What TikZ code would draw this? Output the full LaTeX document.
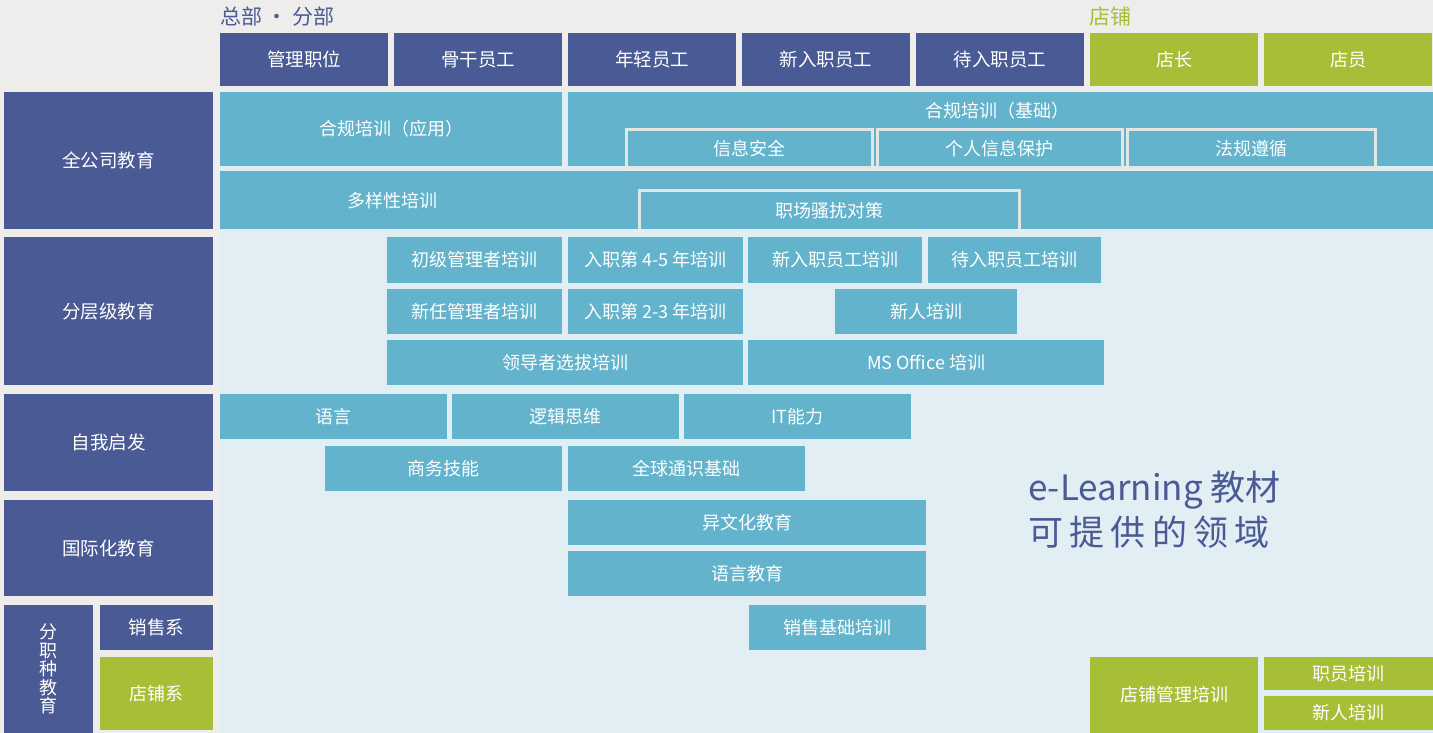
\documentclass[tikz,border=0pt]{standalone}
\usepackage{fontspec}
\setmainfont{Noto Sans CJK SC}
\definecolor{dblue}{HTML}{4A5A94}
\definecolor{teal1}{HTML}{62B3CB}
\definecolor{green1}{HTML}{A6BF37}
\definecolor{lbg}{HTML}{E1EEF4}
\definecolor{gbg}{HTML}{EEEDEB}
\definecolor{edge}{HTML}{E4E6E6}
\tikzset{
  base/.style={inner sep=0pt, outer sep=0pt, text=white, font=\fontsize{18}{21}\selectfont, align=center},
  hdr/.style={base, fill=dblue, font=\fontsize{18.5}{21}\selectfont},
  cat/.style={base, fill=dblue, font=\fontsize{18.5}{21}\selectfont},
  crs/.style={base, fill=teal1},
  grn/.style={base, fill=green1},
  sub/.style={base, fill=teal1, draw=edge, line width=3pt},
}
\newcommand\bx[7]{\node[#2, anchor=north west, minimum width={#5-#3}, minimum height={#6-#4}] (#1) at (#3,#4) {#7};}
\begin{document}
\begin{tikzpicture}[x=1pt,y=-1pt]
\fill[gbg] (0,0) rectangle (1433,733);
\useasboundingbox (0,0) rectangle (1433,733);
\fill[lbg] (220,92) rectangle (1433,733);
% titles
\node[anchor=west, text=dblue, font=\fontsize{21}{24}\selectfont, inner sep=0pt] (t1) at (220,17) {总部 · 分部};
\node[anchor=west, text=green1, font=\fontsize{21}{24}\selectfont, inner sep=0pt] (t2) at (1089,17) {店铺};
% header
\bx{h1}{hdr}{220}{33}{388}{86}{管理职位}
\bx{h2}{hdr}{394}{33}{562}{86}{骨干员工}
\bx{h3}{hdr}{568}{33}{736}{86}{年轻员工}
\bx{h4}{hdr}{742}{33}{910}{86}{新入职员工}
\bx{h5}{hdr}{916}{33}{1084}{86}{待入职员工}
\bx{h6}{grn}{1090}{33}{1258}{86}{店长}
\bx{h7}{grn}{1264}{33}{1432}{86}{店员}
% categories
\bx{c1}{cat}{4}{92}{213}{229}{全公司教育}
\bx{c2}{cat}{4}{237}{213}{385}{分层级教育}
\bx{c3}{cat}{4}{394}{213}{491}{自我启发}
\bx{c4}{cat}{4}{500}{213}{596}{国际化教育}
\node[cat, anchor=north west, minimum width=89, minimum height=128, font=\fontsize{18}{18.5}\selectfont] (c5) at (4,605) {分\\职\\种\\教\\育};
\bx{c6}{cat}{100}{605}{213}{650}{销售系}
\bx{c7}{grn}{100}{657}{213}{730}{店铺系}
% company-wide
\bx{a1}{crs}{220}{92}{562}{166}{合规培训（应用）}
\bx{a2}{crs}{568}{92}{1433}{166}{}
\node[base] (a2t) at (997,111) {合规培训（基础）};
\bx{a3}{sub}{626}{130}{872}{168}{信息安全}
\bx{a4}{sub}{877}{130}{1122}{168}{个人信息保护}
\bx{a5}{sub}{1127}{130}{1375}{168}{法规遵循}
\bx{b1}{crs}{220}{171}{1433}{229}{}
\node[base] (b1t) at (392,201) {多样性培训};
\bx{b2}{sub}{639}{191}{1019}{231}{职场骚扰对策}
\fill[lbg] (220,229) rectangle (1433,237);
% layered
\bx{d1}{crs}{387}{237}{562}{283}{初级管理者培训}
\bx{d2}{crs}{568}{237}{743}{283}{入职第 4-5 年培训}
\bx{d3}{crs}{748}{237}{922}{283}{新入职员工培训}
\bx{d4}{crs}{928}{237}{1101}{283}{待入职员工培训}
\bx{d5}{crs}{387}{289}{562}{334}{新任管理者培训}
\bx{d6}{crs}{568}{289}{743}{334}{入职第 2-3 年培训}
\bx{d7}{crs}{835}{289}{1017}{334}{新人培训}
\bx{d8}{crs}{387}{340}{743}{385}{领导者选拔培训}
\bx{d9}{crs}{748}{340}{1104}{385}{MS Office 培训}
% self
\bx{e1}{crs}{220}{394}{447}{439}{语言}
\bx{e2}{crs}{452}{394}{679}{439}{逻辑思维}
\bx{e3}{crs}{684}{394}{911}{439}{IT能力}
\bx{e4}{crs}{325}{446}{562}{491}{商务技能}
\bx{e5}{crs}{568}{446}{805}{491}{全球通识基础}
% international
\bx{f1}{crs}{568}{500}{926}{545}{异文化教育}
\bx{f2}{crs}{568}{551}{926}{596}{语言教育}
% job
\bx{g1}{crs}{749}{605}{926}{650}{销售基础培训}
\bx{g2}{grn}{1090}{657}{1258}{733}{店铺管理培训}
\bx{g3}{grn}{1264}{657}{1433}{690}{职员培训}
\bx{g4}{grn}{1264}{696}{1433}{730}{新人培训}
% big label
\node[anchor=west, text=dblue, font=\fontsize{35}{45}\selectfont, align=left, inner sep=0pt] (el) at (1028,510) {e-Learning 教材\\{\addfontfeature{LetterSpace=18}可提供的领域}};
\end{tikzpicture}
\end{document}
